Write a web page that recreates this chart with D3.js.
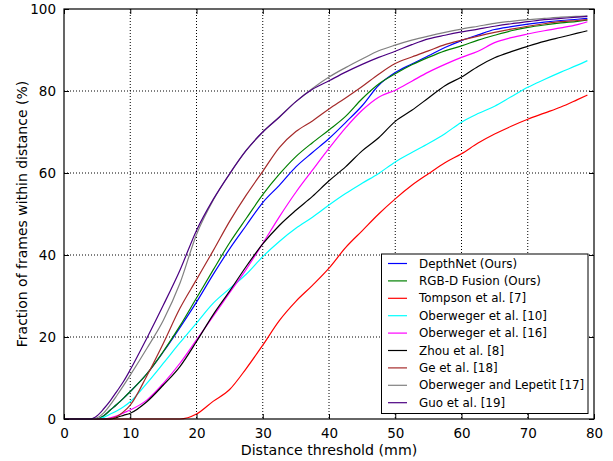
<!DOCTYPE html>
<html>
<head>
<meta charset="utf-8">
<script src="https://cdn.jsdelivr.net/npm/d3@7"></script>
<style>
  body { margin: 0; background: #fff; }
  text { font-family: "DejaVu Sans", sans-serif; fill: #000; }
</style>
</head>
<body>
<div id="chart"></div>
<script>
// distance thresholds (mm) at which each curve was read
var thresholds = [0, 4, 5, 6, 7, 8, 9, 10, 12.5, 15, 17.5, 20, 22.5, 25, 27.5, 30, 32.5, 35, 37.5, 40,
  42.5, 45, 47.5, 50, 52.5, 55, 57.5, 60, 62.5, 65, 67.5, 70, 72.5, 75, 77.5, 79];

// fraction of frames within distance (%)
var depthNet = [0, 0, 0, 0.8, 2.2, 3.6, 5.1, 6.7, 11, 16.4, 22.3, 28.5, 35.2, 41.5, 47.2, 52.8, 57, 61.5, 65, 68.4,
  72.3, 76.4, 81.4, 84.5, 86.6, 88.6, 90.6, 92.3, 93.7, 95.0, 95.7, 96.3, 96.8, 97.2, 97.5, 97.7];
var rgbdFusion = [0, 0, 0, 0.8, 2.2, 3.6, 5.1, 6.7, 11, 16.5, 22.7, 29.5, 36.3, 43, 48.9, 54.7, 59.7, 64, 67.4, 70.5,
  73.8, 78.1, 81.7, 84.2, 86.4, 88.2, 89.8, 91.0, 92.4, 93.6, 94.7, 95.5, 96.1, 96.6, 97.0, 97.3];
var tompson = [0, 0, 0, 0, 0, 0, 0, 0, 0, 0, 0, 1.2, 4.3, 7.2, 12.3, 18, 24, 28.7, 32.6, 36.8,
  41.8, 45.9, 50, 53.7, 57, 59.8, 62.5, 64.7, 67.3, 69.5, 71.4, 73.1, 74.6, 76.1, 77.9, 79];
var oberweger10 = [0, 0, 0, 0.4, 1.2, 2, 3, 4.2, 8.7, 13.6, 18.6, 23.4, 28.2, 31.8, 35.3, 39.6, 43.3, 46.5, 49.2, 52.2,
  55, 57.5, 59.9, 62.7, 65, 67.2, 69.6, 72.4, 74.5, 76.3, 78.6, 80.9, 82.8, 84.6, 86.3, 87.4];
var oberweger16 = [0, 0, 0, 0, 0.3, 0.8, 1.5, 2.2, 4.6, 8.7, 13.6, 19.3, 25, 30.8, 36.5, 42.8, 49.3, 55.3, 60.7, 66,
  71, 75.3, 78.5, 80.2, 82.4, 84.6, 86.5, 88.2, 89.7, 91.8, 93, 93.9, 94.7, 95.4, 96.2, 96.9];
var zhou = [0, 0, 0, 0, 0, 0.4, 0.9, 1.4, 4.2, 8.3, 12.8, 18.9, 25.4, 31.2, 37.2, 42.7, 47.2, 50.9, 54.3, 58.1,
  61.5, 65.4, 68.6, 72.6, 75.3, 78.3, 81.3, 83.4, 86, 88.1, 89.6, 90.9, 92.1, 93.1, 94.1, 94.7];
var ge = [0, 0, 0, 0, 0.1, 0.6, 1.8, 3.4, 10.5, 18.5, 27, 34, 41, 48.2, 54.6, 60.4, 66.2, 70.1, 72.7, 75.6,
  78.3, 81.1, 84.1, 86.7, 88.3, 89.8, 91.3, 92.4, 93.4, 94.3, 95.1, 95.8, 96.4, 96.9, 97.2, 97.4];
var oberwegerLepetit = [0, 0, 0.3, 1.5, 3.5, 5.8, 8.2, 10.7, 17.2, 24.1, 33.1, 45, 53.3, 59.8, 65.5, 70, 73.7, 77.4, 80.6, 83.4,
  85.7, 87.8, 89.8, 91.2, 92.4, 93.4, 94.3, 95.1, 95.8, 96.5, 97.0, 97.4, 97.7, 98.0, 98.2, 98.3];
var guo = [0, 0, 0.8, 2.5, 4.5, 6.8, 9.2, 12, 19.7, 27.8, 36.3, 46, 53.5, 59.8, 65.5, 70, 73.6, 77.4, 80.4, 82.5,
  84.6, 86.5, 88.2, 89.7, 91.3, 92.7, 93.6, 94.4, 95.1, 95.8, 96.4, 96.9, 97.4, 97.7, 98.0, 98.2];

var seriesNames = ["DepthNet (Ours)", "RGB-D Fusion (Ours)", "Tompson et al. [7]", "Oberweger et al. [10]",
  "Oberweger et al. [16]", "Zhou et al. [8]", "Ge et al. [18]", "Oberweger and Lepetit [17]", "Guo et al. [19]"];
var seriesValues = [depthNet, rgbdFusion, tompson, oberweger10, oberweger16, zhou, ge, oberwegerLepetit, guo];
var seriesColors = ["#0000ff", "#008000", "#ff0000", "#00ffff", "#ff00ff", "#000000", "#a52a2a", "#808080", "#4b0082"];

var xTicks = [0, 10, 20, 30, 40, 50, 60, 70, 80];
var yTicks = [0, 20, 40, 60, 80, 100];

// chart setup
var svgWidth = 613;
var svgHeight = 461;
var margin = { top: 9, right: 19, bottom: 42, left: 64 };
var width = svgWidth - margin.left - margin.right;
var height = svgHeight - margin.top - margin.bottom;

var svg = d3.select("#chart")
  .append("svg")
  .attr("width", svgWidth)
  .attr("height", svgHeight);

var chartGroup = svg.append("g")
  .attr("transform", `translate(${margin.left}, ${margin.top})`);

var xScale = d3.scaleLinear().domain([0, 80]).range([0, width]);
var yScale = d3.scaleLinear().domain([0, 100]).range([height, 0]);

// grid
chartGroup.append("g")
  .selectAll("line")
  .data(xTicks.slice(1, -1))
  .enter()
  .append("line")
  .attr("x1", d => xScale(d)).attr("x2", d => xScale(d))
  .attr("y1", 0).attr("y2", height)
  .attr("stroke", "#000")
  .attr("stroke-width", 1)
  .attr("stroke-dasharray", "1,2");

chartGroup.append("g")
  .selectAll("line")
  .data(yTicks.slice(1, -1))
  .enter()
  .append("line")
  .attr("x1", 0).attr("x2", width)
  .attr("y1", d => yScale(d)).attr("y2", d => yScale(d))
  .attr("stroke", "#000")
  .attr("stroke-width", 1)
  .attr("stroke-dasharray", "1,2");

// curves
var line = d3.line()
  .x((d, i) => xScale(thresholds[i]))
  .y(d => yScale(d))
  .curve(d3.curveMonotoneX);

chartGroup.append("g")
  .selectAll("path")
  .data(seriesValues)
  .enter()
  .append("path")
  .attr("d", d => line(d))
  .attr("fill", "none")
  .attr("stroke", (d, i) => seriesColors[i])
  .attr("stroke-width", 1.2);

// axes: ticks point inward, on all four sides
var bottomAxis = d3.axisBottom(xScale).tickValues(xTicks).tickSize(-5).tickPadding(9).tickFormat(d3.format("d"));
var topAxis = d3.axisTop(xScale).tickValues(xTicks).tickSize(-5).tickFormat("");
var leftAxis = d3.axisLeft(yScale).tickValues(yTicks).tickSize(-5).tickPadding(8).tickFormat(d3.format("d"));
var rightAxis = d3.axisRight(yScale).tickValues(yTicks).tickSize(-5).tickFormat("");

function styleAxis(g) {
  g.select(".domain").remove();
  g.selectAll(".tick line").attr("stroke", "#000");
  g.selectAll(".tick text")
    .style("font-family", "'DejaVu Sans', sans-serif")
    .style("font-size", "13.5px")
    .attr("fill", "#000");
}

chartGroup.append("g").attr("transform", `translate(0, ${height})`).call(bottomAxis).call(styleAxis);
chartGroup.append("g").call(topAxis).call(styleAxis);
chartGroup.append("g").call(leftAxis).call(styleAxis);
chartGroup.append("g").attr("transform", `translate(${width}, 0)`).call(rightAxis).call(styleAxis);

// frame
chartGroup.append("rect")
  .attr("width", width)
  .attr("height", height)
  .attr("fill", "none")
  .attr("stroke", "#000")
  .attr("stroke-width", 1.2);

// axis labels
chartGroup.append("text")
  .attr("x", width / 2)
  .attr("y", height + 36)
  .attr("text-anchor", "middle")
  .style("font-size", "14.2px")
  .text("Distance threshold (mm)");

chartGroup.append("text")
  .attr("transform", "rotate(-90)")
  .attr("x", -height / 2)
  .attr("y", -margin.left + 27)
  .attr("text-anchor", "middle")
  .style("font-size", "14px")
  .text("Fraction of frames within distance (%)");

// legend
var legend = chartGroup.append("g")
  .attr("transform", `translate(${381.5 - margin.left}, ${254 - margin.top})`);

legend.append("rect")
  .attr("width", 206.5)
  .attr("height", 159.5)
  .attr("fill", "#fff")
  .attr("stroke", "#000")
  .attr("stroke-width", 1);

var entries = legend.selectAll(".entry")
  .data(seriesNames)
  .enter()
  .append("g")
  .attr("transform", (d, i) => `translate(0, ${9.5 + i * 17.4})`);

entries.append("line")
  .attr("x1", 6.5).attr("x2", 25.5)
  .attr("y1", 0).attr("y2", 0)
  .attr("stroke", (d, i) => seriesColors[i])
  .attr("stroke-width", 1.2);

entries.append("text")
  .attr("x", 37.5)
  .attr("y", 0)
  .attr("dy", "0.35em")
  .style("font-size", "11.9px")
  .text(d => d);
</script>
</body>
</html>
